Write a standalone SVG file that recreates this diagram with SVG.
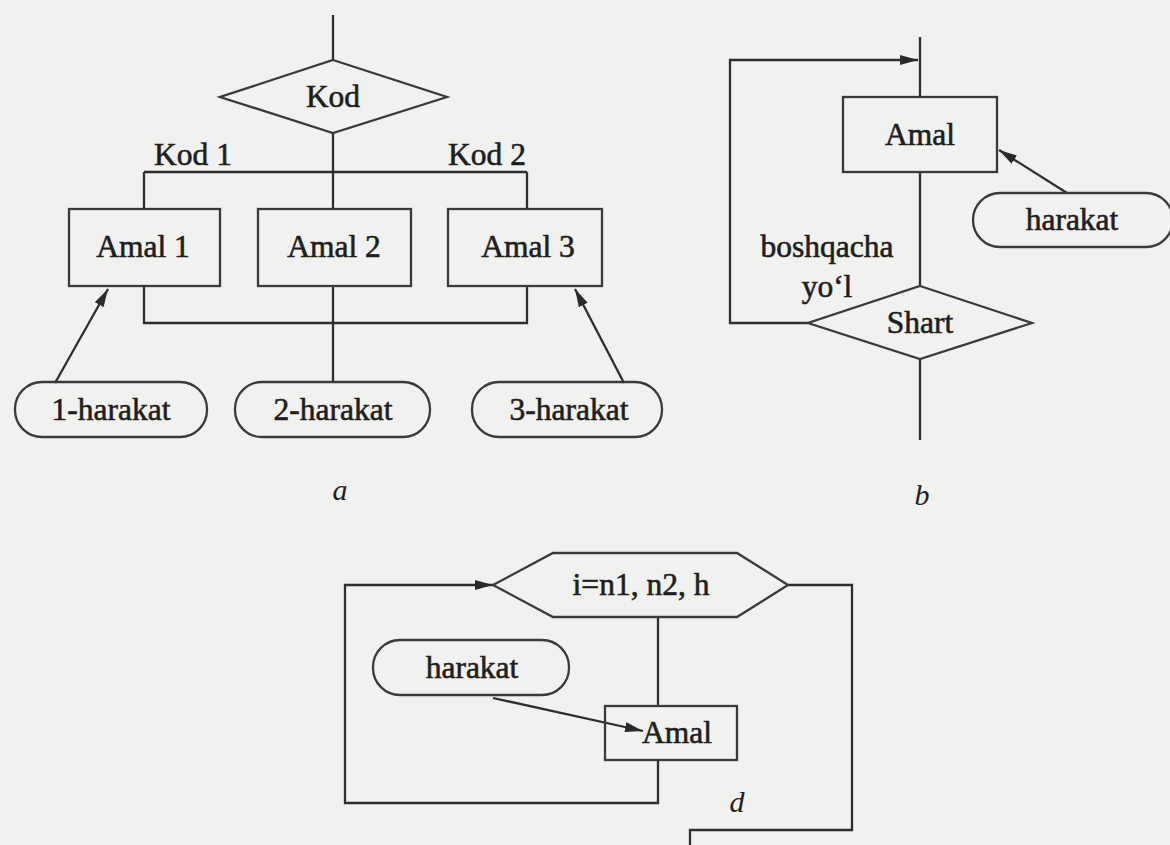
<svg xmlns="http://www.w3.org/2000/svg" width="1170" height="845" viewBox="0 0 1170 845">
<defs>
<style>
.s{fill:none;stroke:#2e2e2e;stroke-width:2.3}
.n{fill:none;stroke:#3a3a3a;stroke-width:2.3}
.t{font-family:'Liberation Serif','DejaVu Serif',serif;font-size:31.5px;fill:#1e1e1e;stroke:#1e1e1e;stroke-width:0.6;text-anchor:middle}
.i{font-family:'Liberation Serif','DejaVu Serif',serif;font-size:30px;font-style:italic;fill:#222;text-anchor:middle}
</style>
<marker id="ah" viewBox="0 0 18 10" refX="18" refY="5" markerWidth="18" markerHeight="10" markerUnits="userSpaceOnUse" orient="auto">
<path d="M0,0 L18,5 L0,10 z" fill="#2a2a2a"/>
</marker>
</defs>
<rect x="0" y="0" width="1170" height="845" fill="#f1f1ef"/>

<g id="connectors">
<path class="s" d="M333,15 V60"/>
<path class="s" d="M333,133 V172 M144,172 H527 M144,172 V209 M333,172 V209 M527,172 V209"/>
<path class="s" d="M144,286 V323 H527 V286 M333,286 V382"/>
<path class="s" d="M55,383 L108,289" marker-end="url(#ah)"/>
<path class="s" d="M624,383 L575,289" marker-end="url(#ah)"/>
<path class="s" d="M920,37 V97 M920,172 V286 M920,359 V440"/>
<path class="s" d="M808,323 H730 V60 H918" marker-end="url(#ah)"/>
<path class="s" d="M1067,193 L999,150" marker-end="url(#ah)"/>
<path class="s" d="M658,617 V706"/>
<path class="s" d="M658,760 V803 H345 V585 H493" marker-end="url(#ah)"/>
<path class="s" d="M788,585 H852 V830 H690 V845"/>
<path class="s" d="M493,698 L643,731" marker-end="url(#ah)"/>
</g>

<g id="kod">
<polygon class="n" points="333,60 447,97 333,133 220,97"/>
<text class="t" x="333" y="107">Kod</text>
</g>
<g id="kod1-label"><text class="t" x="193" y="165">Kod 1</text></g>
<g id="kod2-label"><text class="t" x="487" y="165">Kod 2</text></g>
<g id="amal1">
<rect class="n" x="69" y="209" width="151" height="77"/>
<text class="t" x="143" y="257">Amal 1</text>
</g>
<g id="amal2">
<rect class="n" x="258" y="209" width="153" height="77"/>
<text class="t" x="334" y="257">Amal 2</text>
</g>
<g id="amal3">
<rect class="n" x="448" y="209" width="154" height="77"/>
<text class="t" x="528" y="257">Amal 3</text>
</g>
<g id="harakat1">
<rect class="n" x="15" y="382" width="192" height="55" rx="27"/>
<text class="t" x="111" y="420">1-harakat</text>
</g>
<g id="harakat2">
<rect class="n" x="235" y="382" width="195" height="55" rx="27"/>
<text class="t" x="333" y="420">2-harakat</text>
</g>
<g id="harakat3">
<rect class="n" x="472" y="382" width="190" height="55" rx="27"/>
<text class="t" x="569" y="420">3-harakat</text>
</g>
<g id="label-a"><text class="i" x="340" y="500">a</text></g>

<g id="amal-b">
<rect class="n" x="843" y="97" width="154" height="75"/>
<text class="t" x="920" y="145">Amal</text>
</g>
<g id="harakat-b">
<rect class="n" x="973" y="193" width="200" height="54" rx="27"/>
<text class="t" x="1072" y="230">harakat</text>
</g>
<g id="shart">
<polygon class="n" points="920,286 1032,323 920,359 808,323"/>
<text class="t" x="920" y="333">Shart</text>
</g>
<g id="boshqacha-label">
<text class="t" x="827" y="257">boshqacha</text>
<text class="t" x="827" y="297">yo‘l</text>
</g>
<g id="label-b"><text class="i" x="922" y="505">b</text></g>

<g id="loop-d">
<polygon class="n" points="493,585 553,553 737,553 788,585 737,617 553,617"/>
<text class="t" x="641" y="595">i=n1, n2, h</text>
</g>
<g id="harakat-d">
<rect class="n" x="373" y="640" width="196" height="55" rx="27"/>
<text class="t" x="472" y="678">harakat</text>
</g>
<g id="amal-d">
<rect class="n" x="605" y="706" width="132" height="54"/>
<text class="t" x="677" y="743">Amal</text>
</g>
<g id="label-d"><text class="i" x="737" y="812">d</text></g>
</svg>
